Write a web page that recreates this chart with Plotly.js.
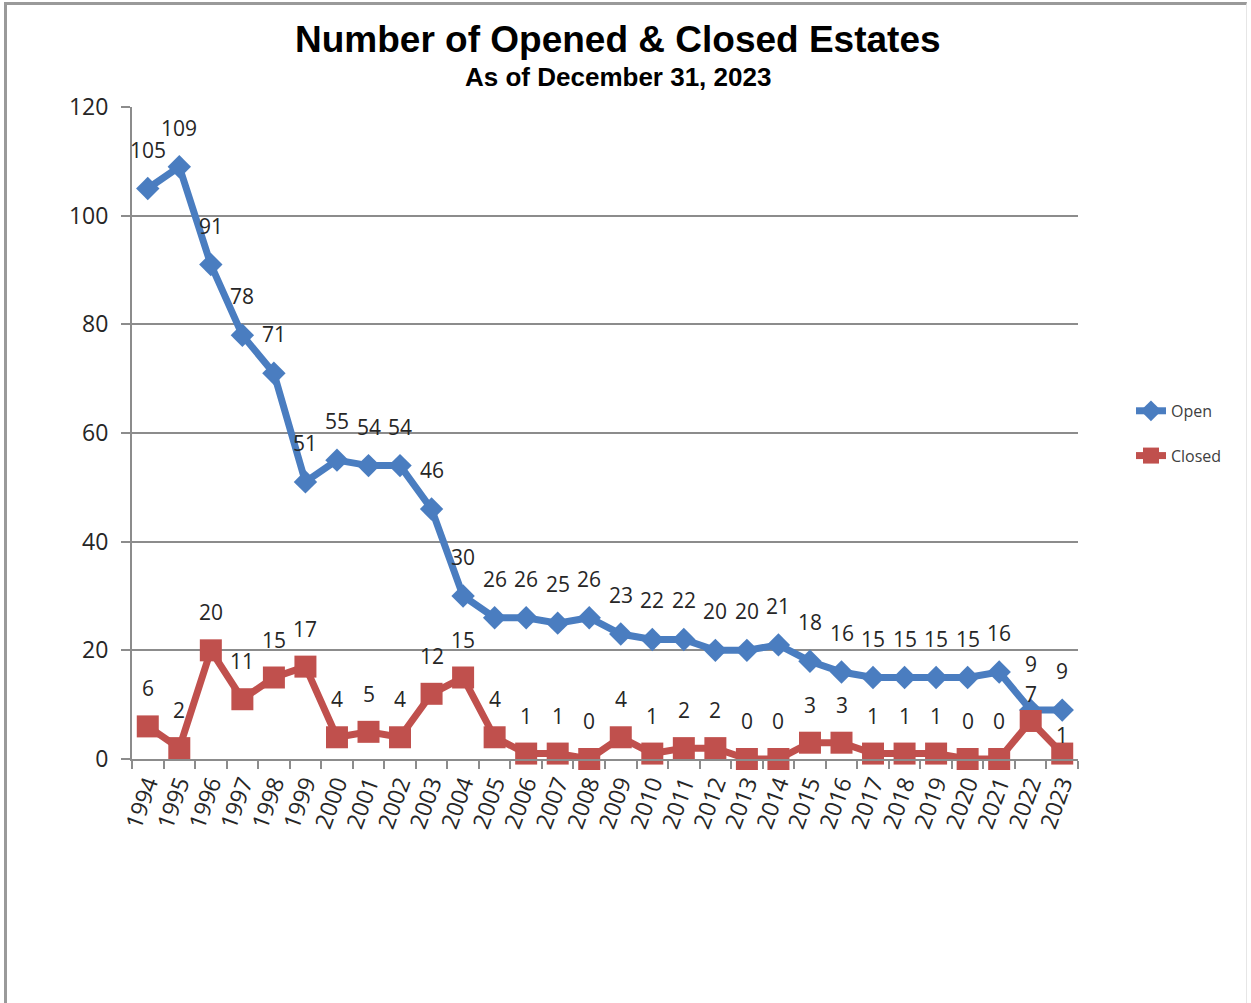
<!DOCTYPE html>
<html>
<head>
<meta charset="utf-8">
<script src="https://cdn.plot.ly/plotly-3.0.1.min.js"></script>
<style>
  html, body { margin: 0; padding: 0; background: #fff; }
  #wrap { position: relative; width: 1251px; height: 1003px; }
  #chart { position: absolute; left: 0; top: 0; width: 1251px; height: 1003px; }
  #frame { position: absolute; left: 4px; top: 2px; width: 1243px; height: 1010px;
           border-left: 3px solid #9a9a9a; border-top: 3px solid #9a9a9a; border-right: 1px solid #e6e6e6;
           pointer-events: none; box-sizing: border-box; }
</style>
</head>
<body>
<div id="wrap">
  <div id="chart"></div>
  <div id="frame"></div>
</div>
<script>
const years = ["1994","1995","1996","1997","1998","1999","2000","2001","2002","2003",
               "2004","2005","2006","2007","2008","2009","2010","2011","2012","2013",
               "2014","2015","2016","2017","2018","2019","2020","2021","2022","2023"];
const openVals = [105,109,91,78,71,51,55,54,54,46,30,26,26,25,26,23,22,22,20,20,21,18,16,15,15,15,15,16,9,9];
const closedVals = [6,2,20,11,15,17,4,5,4,12,15,4,1,1,0,4,1,2,2,0,0,3,3,1,1,1,0,0,7,1];
const yTicks = [0,20,40,60,80,100,120];

const blue = '#4a7dc0';
const red = '#c0504d';
const labelFont = {family: 'Open Sans, sans-serif', size: 21, color: '#262626'};
// label offsets (pixels above the point); a few adjusted as in the original to avoid collisions
const defaultShift = 39;
const openShiftOverride = {28: 46};
const closedShiftOverride = {28: 27, 29: 19};

const traces = [
  {
    x: years, y: openVals, name: 'Open', type: 'scatter', mode: 'lines+markers',
    line: {color: blue, width: 7},
    marker: {symbol: 'diamond', size: 18, color: blue},
    legendgroup: 'a', cliponaxis: false
  },
  {
    x: years, y: closedVals, name: 'Closed', type: 'scatter', mode: 'lines+markers',
    line: {color: red, width: 7},
    marker: {symbol: 'square', size: 22, color: red},
    legendgroup: 'b', cliponaxis: false
  }
];

const annotations = [];
years.forEach((yr, i) => {
  annotations.push({x: i, y: openVals[i], xref: 'x', yref: 'y', text: String(openVals[i]),
    showarrow: false, yshift: openShiftOverride[i] ?? defaultShift,
    xanchor: 'center', yanchor: 'middle', font: labelFont});
  annotations.push({x: i, y: closedVals[i], xref: 'x', yref: 'y', text: String(closedVals[i]),
    showarrow: false, yshift: closedShiftOverride[i] ?? (defaultShift - 1),
    xanchor: 'center', yanchor: 'middle', font: labelFont});
});
annotations.push({
  text: '<b>Number of Opened &amp; Closed Estates</b>', xref: 'paper', yref: 'paper',
  x: 0.514, y: 1.1028, xanchor: 'center', yanchor: 'middle', showarrow: false,
  font: {family: 'Liberation Sans, Arial, sans-serif', size: 37, color: '#000'}
});
annotations.push({
  text: '<b>As of December 31, 2023</b>', xref: 'paper', yref: 'paper',
  x: 0.514, y: 1.046, xanchor: 'center', yanchor: 'middle', showarrow: false,
  font: {family: 'Liberation Sans, Arial, sans-serif', size: 26, color: '#000'}
});

const layout = {
  width: 1251, height: 1003,
  margin: {l: 132, r: 173, t: 107, b: 244},
  paper_bgcolor: '#fff', plot_bgcolor: '#fff',
  showlegend: true,
  legend: {
    x: 1.056, y: 0.56, xanchor: 'left', yanchor: 'top',
    font: {family: 'Open Sans, sans-serif', size: 16, color: '#404040'},
    traceorder: 'grouped', tracegroupgap: 21, bgcolor: 'rgba(0,0,0,0)'
  },
  xaxis: {
    type: 'category', range: [-0.5, 29.5],
    showline: true, linecolor: '#8c8c8c', linewidth: 2,
    ticks: 'outside', tickson: 'boundaries', ticklen: 8, tickcolor: '#8c8c8c', tickwidth: 2,
    tickangle: -70, showgrid: false, zeroline: false,
    tickfont: {family: 'Open Sans, sans-serif', size: 23, color: '#262626'}
  },
  yaxis: {
    range: [0, 120], tickvals: yTicks, ticktext: yTicks.map(String),
    showline: true, linecolor: '#8c8c8c', linewidth: 2,
    ticks: 'outside', ticklen: 9, tickcolor: '#8c8c8c', tickwidth: 2,
    ticklabelstandoff: 8,
    showgrid: true, gridcolor: '#8c8c8c', gridwidth: 2, zeroline: false,
    tickfont: {family: 'Open Sans, sans-serif', size: 23, color: '#262626'}
  },
  annotations: annotations
};

Plotly.newPlot('chart', traces, layout, {displayModeBar: false, staticPlot: true});
</script>
</body>
</html>
